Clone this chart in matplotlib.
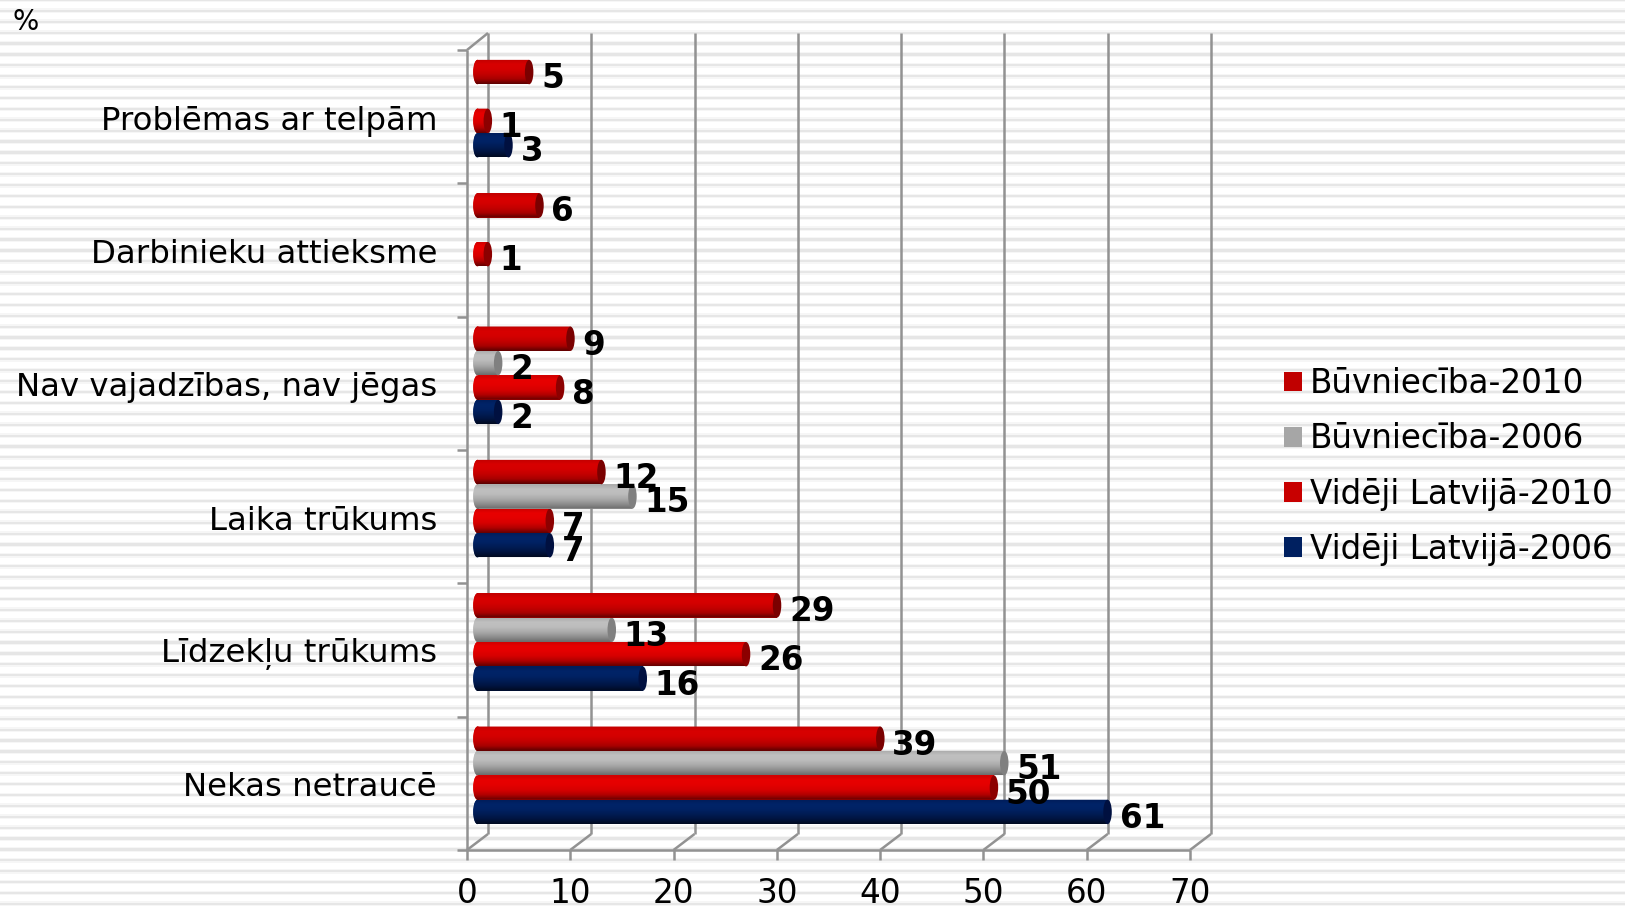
import numpy as np
import matplotlib
matplotlib.use("Agg")
import matplotlib.pyplot as plt
from matplotlib.patches import Ellipse, Patch
from matplotlib.path import Path
from matplotlib.colors import LinearSegmentedColormap

# ---- data (bottom category first) ----
categories = ["Nekas netraucē", "Līdzekļu trūkums", "Laika trūkums",
              "Nav vajadzības, nav jēgas", "Darbinieku attieksme", "Problēmas ar telpām"]
buv_2010 = [39, 29, 12, 9, 6, 5]
buv_2006 = [51, 13, 15, 2, None, None]
lat_2010 = [50, 26, 7, 8, 1, 1]
lat_2006 = [61, 16, 7, 2, None, 3]
series_names = ["Būvniecība-2010", "Būvniecība-2006", "Vidēji Latvijā-2010", "Vidēji Latvijā-2006"]
x_ticks = [0, 10, 20, 30, 40, 50, 60, 70]

W, H = 1625, 906
FONT = "DejaVu Sans"
plt.rcParams["font.family"] = FONT
fig = plt.figure(figsize=(W / 100, H / 100), dpi=100, facecolor="white")

# striped slide background
bg = fig.add_axes([0, 0, 1, 1], zorder=0)
bg.set_xlim(0, W); bg.set_ylim(H, 0); bg.axis("off")
for yy in np.arange(0, H + 11, 10.89):
    bg.axhspan(yy - 2.4, yy + 2.4, color="#f6f6f6", lw=0)
    bg.axhspan(yy - 1.1, yy + 1.1, color="#e6e6e6", lw=0)

# plot axes: x=0 at px 467, x=70 at px 1190; y spans px 850..50
X0, X1, Y0, Y1 = 467, 1190, 850, 50
ax = fig.add_axes([X0 / W, 1 - Y0 / H, (X1 - X0) / W, (Y0 - Y1) / H], zorder=1)
ax.patch.set_alpha(0)
ax.set_xlim(0, 70); ax.set_ylim(0, 6)
for s in ax.spines.values():
    s.set_visible(False)

DX = 21 / ((X1 - X0) / 70)   # 3-D depth in x data units
DY = 16 / ((Y0 - Y1) / 6)    # 3-D depth in y data units
GRID = "#929292"
lw = 1.8
line = dict(color=GRID, lw=lw, clip_on=False, solid_capstyle="butt", zorder=1)

# walls, floor and grid lines
for t in x_ticks:
    ax.plot([t + DX, t + DX], [DY, 6 + DY * 17 / 16], **line)
    ax.plot([t, t + DX], [0, DY], **line)
ax.plot([0, 0], [0, 6], **line)
ax.plot([0, DX], [6, 6 + DY * 17 / 16], **line)
ax.plot([0, 70], [0, 0], **line)

ax.set_xticks(x_ticks)
ax.set_yticks(range(7))
ax.set_yticklabels([])
ax.tick_params(axis="both", color=GRID, width=lw, length=7.2, labelsize=23.5, pad=12)
ax.tick_params(axis="x", labelcolor="black")

# category labels
for i, c in enumerate(categories):
    ax.annotate(c, xy=(0, i + 0.5 + DY / 2), xycoords="data", xytext=(-30, -12.5),
                textcoords="offset pixels", ha="right", va="center", fontsize=23.3, color="black")

# bars
series = [buv_2010, buv_2006, lat_2010, lat_2006]
ramps = [["#c00000", "#d80000", "#d40000", "#c40000", "#a80000", "#5a0000"],
         ["#a8a8a8", "#c0c0c0", "#bcbcbc", "#aaaaaa", "#8e8e8e", "#6c6c6c"],
         ["#cc0000", "#e80000", "#e40000", "#d60000", "#b00000", "#640000"],
         ["#001c58", "#002468", "#002264", "#001c54", "#001440", "#000a20"]]
caps = ["#7a0000", "#808080", "#8c0000", "#001040"]
BAR_H = 24.4 / ((Y0 - Y1) / 6)
CAP_W = 8.5 / ((X1 - X0) / 70)
left = DX / 2
for k, vals in enumerate(series):
    cmap = LinearSegmentedColormap.from_list("r", ramps[k])
    for i, v in enumerate(vals):
        if v is None:
            continue
        yc = i + 0.5 + DY / 2 + (1.5 - k) * BAR_H
        z = 3 + (3 - k) * 0.1 + (5 - i)
        bar = ax.barh(yc, v, height=BAR_H, left=left, color=ramps[k][2], lw=0, zorder=z)[0]
        t_bar = yc + BAR_H / 2
        b_bar = yc - BAR_H / 2
        lcap = Ellipse((left, yc), CAP_W, BAR_H, color=ramps[k][2], lw=0, zorder=z)
        ax.add_patch(lcap)
        img = ax.imshow(np.linspace(0, 1, 64)[:, None], cmap=cmap, aspect="auto", origin="upper",
                        extent=(left - CAP_W / 2, left + v, b_bar, t_bar), zorder=z + 0.01)
        clip = Path.make_compound_path(
            bar.get_path().transformed(bar.get_patch_transform()),
            lcap.get_path().transformed(lcap.get_patch_transform()))
        img.set_clip_path(clip, ax.transData)
        ax.add_patch(Ellipse((left + v, yc), CAP_W, BAR_H, color=caps[k], lw=0, zorder=z + 0.02))
        ax.annotate(str(v), xy=(left + v, yc), xytext=(12, -6.5), textcoords="offset pixels",
                    ha="left", va="center", fontsize=23.5, fontweight="bold", color="black", zorder=30,
                    annotation_clip=False)
ax.set_xlim(0, 70); ax.set_ylim(0, 6)

# "%" unit mark
fig.text(13 / W, 1 - 22 / H, "%", fontsize=20, ha="left", va="center", color="black")

# legend
handles = [Patch(color=c, lw=0) for c in ["#c00000", "#a6a6a6", "#c80000", "#002060"]]
fig.legend(handles, series_names, loc="center left", bbox_to_anchor=(1284 / W, 1 - 466.5 / H),
           frameon=False, fontsize=23.5, handlelength=0.55, handleheight=0.55, handletextpad=0.25,
           labelspacing=0.68, borderpad=0, borderaxespad=0)

fig.savefig("out.png", dpi=100, facecolor="white")
